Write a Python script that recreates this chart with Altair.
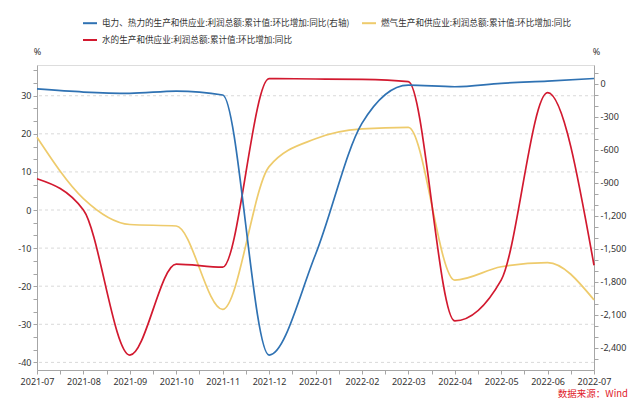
import altair as alt
import pandas as pd

months = ["2021-07", "2021-08", "2021-09", "2021-10", "2021-11", "2021-12",
          "2022-01", "2022-02", "2022-03", "2022-04", "2022-05", "2022-06", "2022-07"]
# right axis series (电力、热力)
power = [-45, -73, -85, -64, -100, -2464, -1550, -358, -10, -25, 6, 27, 50]
# left axis series
gas = [19.1, 3.0, -3.8, -4.2, -26.1, 11.4, 18.7, 21.3, 21.7, -18.4, -14.9, -13.8, -23.6]
water = [8.2, 0.0, -38.1, -14.2, -15.0, 34.5, 34.4, 34.3, 33.7, -29.1, -18.4, 30.8, -14.5]

names = ["电力、热力的生产和供应业:利润总额:累计值:环比增加:同比(右轴)",
         "燃气生产和供应业:利润总额:累计值:环比增加:同比",
         "水的生产和供应业:利润总额:累计值:环比增加:同比"]
colors = ["#2f72b3", "#eecb6c", "#d2192f"]
source_text = "数据来源：Wind"

left_major = [-40, -30, -20, -10, 0, 10, 20, 30]
left_ticks = [round(-40 + k * 10 / 3, 4) for k in range(24)]
right_ticks = list(range(-2500, 101, 100))
x_ticks = [k / 2 for k in range(25)]

W, H = 557, 305
FONT = "Noto Sans"
LABEL_C = "#333333"
AXIS_C = "#a6a6a6"

idx = list(range(len(months)))
df_right = pd.DataFrame({"i": idx, "v": power, "s": names[0]})
df_left = pd.concat([
    pd.DataFrame({"i": idx, "v": gas, "s": names[1]}),
    pd.DataFrame({"i": idx, "v": water, "s": names[2]}),
])
df_grid = pd.DataFrame({"v": left_major})
df_src = pd.DataFrame({"t": [source_text]})

month_arr = "[" + ",".join("'" + m + "'" for m in months) + "]"
x_axis = alt.Axis(
    values=x_ticks,
    labelExpr=f"datum.value % 1 == 0 ? {month_arr}[datum.value] : ''",
    grid=False, tickSize=4, tickColor=AXIS_C, domainColor=AXIS_C,
    labelColor=LABEL_C, labelFontSize=9, labelPadding=3, labelFont=FONT,
    labelOverlap=False, labelFlush=False, title=None,
)
x_enc = alt.X("i:Q", scale=alt.Scale(domain=[0, 12], nice=False, zero=False), axis=x_axis)

left_scale = alt.Scale(domain=[-42.0, 38.07], nice=False, zero=False)
right_scale = alt.Scale(domain=[-2600, 172.7], nice=False, zero=False)

left_axis = alt.Axis(
    orient="left", values=left_ticks,
    labelExpr="abs(datum.value % 10) < 0.01 ? toString(datum.value) : ''",
    grid=False, tickSize=4, tickColor=AXIS_C, domainColor=AXIS_C,
    labelColor=LABEL_C, labelFontSize=9, labelPadding=2, labelFont=FONT,
    labelOverlap=False, title="%", titleAngle=0, titleX=0, titleY=-14,
    titleAlign="center", titleBaseline="middle", titleFontWeight="normal",
    titleFontSize=9, titleColor=LABEL_C, titleFont=FONT,
)

color = alt.Color(
    "s:N",
    scale=alt.Scale(domain=names, range=colors),
    legend=alt.Legend(
        title=None, orient="none", legendX=45, legendY=-50, columns=2,
        direction="horizontal",
        symbolType="stroke", symbolStrokeWidth=2, symbolSize=196,
        labelFont="Noto Sans CJK SC", labelFontSize=8.6, labelColor=LABEL_C,
        labelLimit=600, columnPadding=8, rowPadding=4, padding=0, labelOffset=4,
    ),
)

grid = alt.Chart(df_grid).mark_rule(strokeDash=[3, 3], color="#d9d9d9", strokeWidth=1).encode(
    y=alt.Y("v:Q", scale=left_scale, axis=left_axis)
)

left_lines = alt.Chart(df_left).mark_line(interpolate="monotone", strokeWidth=1.7).encode(
    x=x_enc,
    y=alt.Y("v:Q", scale=left_scale, axis=left_axis),
    color=color,
)

right_line = alt.Chart(df_right).mark_line(interpolate="monotone", strokeWidth=1.7).encode(
    x=x_enc,
    y=alt.Y("v:Q", scale=right_scale, axis=alt.Axis(
        orient="right", values=right_ticks,
        labelExpr="datum.value % 300 == 0 ? replace(format(datum.value, ','), '\u2212', '-') : ''",
        grid=False, tickSize=4, tickColor=AXIS_C, domainColor=AXIS_C,
        labelColor=LABEL_C, labelFontSize=9, labelPadding=2, labelFont=FONT,
        labelOverlap=False, title="%", titleAngle=0, titleX=2, titleY=-14,
        titleAlign="center", titleBaseline="middle", titleFontWeight="normal",
        titleFontSize=9, titleColor=LABEL_C, titleFont=FONT,
    )),
    color=color,
)

src = alt.Chart(df_src).mark_text(
    align="right", baseline="middle", color="#e0202a", fontSize=9.5, font="Noto Sans CJK SC"
).encode(
    x=alt.value(591), y=alt.value(329), text="t:N"
)

left_layer = alt.layer(grid, left_lines)
chart = alt.layer(left_layer, right_line, src).resolve_scale(y="independent").properties(
    width=W, height=H,
    autosize=alt.AutoSizeParams(type="none"),
    padding={"left": 37, "top": 65, "right": 47, "bottom": 38},
).configure_view(stroke=None).configure(font=FONT)

chart.save("out.html", embed_options={"renderer": "svg", "actions": False})
